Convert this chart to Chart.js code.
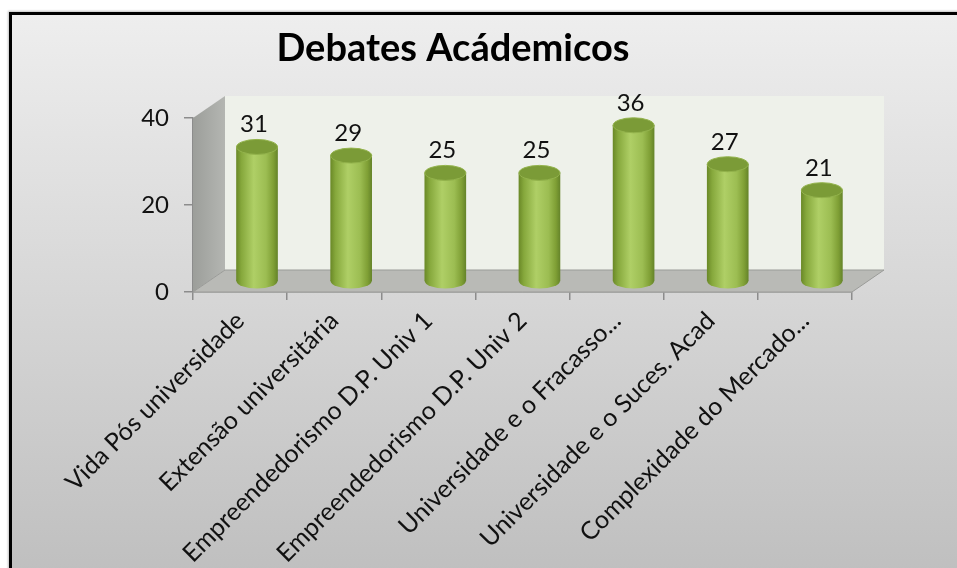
<!DOCTYPE html>
<html><head><meta charset="utf-8">
<script src="https://cdn.jsdelivr.net/npm/chart.js@4"></script>
<style>
html,body{margin:0;padding:0;background:#fff;width:957px;height:568px;overflow:hidden}
#frame{position:absolute;left:9px;top:12px;width:1000px;height:620px;border:3px solid #000;box-sizing:border-box;background:linear-gradient(#eeeeee,#bdbdbd 95%);box-shadow:-1px -1px 2px rgba(0,0,0,0.25)}
#wrap{position:absolute;left:0;top:0;width:957px;height:568px}
</style></head><body>
<div id="frame"></div>
<div id="wrap"><canvas id="c" width="957" height="568"></canvas></div>
<script>
const chartTitle = 'Debates Acádemicos';
const categories = [
  'Vida Pós universidade',
  'Extensão universitária',
  'Empreendedorismo D.P. Univ 1',
  'Empreendedorismo D.P. Univ 2',
  'Universidade e o Fracasso...',
  'Universidade e o Suces. Acad',
  'Complexidade do Mercado...'
];
const values = [31, 29, 25, 25, 36, 27, 21];
const yTicks = [0, 20, 40];

// 3D look settings (pixels)
const DX = 32, DY = 22, CAP = 7.5, BAR_W = 41;
const FONT = 'Lato, Carlito, "Liberation Sans", sans-serif';

function cylGrad(ctx, cx, w) {
  if (!isFinite(cx) || !isFinite(w) || w <= 0) return '#9bbb59';
  const g = ctx.createLinearGradient(cx - w / 2, 0, cx + w / 2, 0);
  g.addColorStop(0, '#6b8a28');
  g.addColorStop(0.12, '#86a83c');
  g.addColorStop(0.42, '#afcf66');
  g.addColorStop(0.72, '#9cbd52');
  g.addColorStop(0.9, '#7f9f35');
  g.addColorStop(1, '#66852a');
  return g;
}

const walls = {
  id: 'walls',
  beforeDatasetsDraw(chart) {
    const ctx = chart.ctx;
    const xs = chart.scales.x, ys = chart.scales.y;
    const xL = xs.left, xR = xs.right;
    const y0 = ys.getPixelForValue(yTicks[0]);
    const yT = ys.getPixelForValue(yTicks[yTicks.length - 1]);
    ctx.save();
    ctx.fillStyle = '#eef1ea';
    ctx.fillRect(xL + DX, yT - DY, xR - xL, y0 - yT);
    const sg = ctx.createLinearGradient(xL, 0, xL + DX, 0);
    sg.addColorStop(0, '#9c9e9a');
    sg.addColorStop(1, '#b4b6b2');
    ctx.fillStyle = sg;
    ctx.beginPath();
    ctx.moveTo(xL, yT); ctx.lineTo(xL + DX, yT - DY);
    ctx.lineTo(xL + DX, y0 - DY); ctx.lineTo(xL, y0); ctx.closePath();
    ctx.fill();
    ctx.fillStyle = '#b9bab6';
    ctx.beginPath();
    ctx.moveTo(xL, y0); ctx.lineTo(xL + DX, y0 - DY);
    ctx.lineTo(xR + DX, y0 - DY); ctx.lineTo(xR, y0); ctx.closePath();
    ctx.fill();
    ctx.strokeStyle = '#9a9b98';
    ctx.lineWidth = 1;
    ctx.stroke();
    const meta = chart.getDatasetMeta(0);
    meta.data.forEach(el => {
      ctx.fillStyle = cylGrad(ctx, el.x, el.width);
      ctx.beginPath();
      ctx.ellipse(el.x, el.base, el.width / 2, CAP, 0, 0, Math.PI * 2);
      ctx.fill();
    });
    ctx.restore();
  },
  afterDatasetsDraw(chart) {
    const ctx = chart.ctx;
    const meta = chart.getDatasetMeta(0);
    ctx.save();
    meta.data.forEach((el, i) => {
      ctx.beginPath();
      ctx.ellipse(el.x, el.y, el.width / 2, CAP, 0, 0, Math.PI * 2);
      ctx.fillStyle = '#7b9b37';
      ctx.fill();
      ctx.strokeStyle = '#93b34c';
      ctx.lineWidth = 1;
      ctx.stroke();
      ctx.fillStyle = '#111';
      ctx.font = '24px ' + FONT;
      ctx.textAlign = 'center';
      ctx.textBaseline = 'alphabetic';
      ctx.fillText(String(values[i]), el.x - 3, el.y - CAP - 7);
    });
    ctx.restore();
  }
};

new Chart(document.getElementById('c'), {
  type: 'bar',
  data: {
    labels: categories,
    datasets: [{
      data: values.map((v, i) => ({ x: i, y: v })),
      xAxisID: 'xb',
      yAxisID: 'yb',
      barThickness: BAR_W,
      borderWidth: 0,
      clip: false,
      backgroundColor: (c) => {
        const xs = c.chart.scales.xb;
        if (!xs || c.type !== 'data' || !c.parsed) return '#9bbb59';
        return cylGrad(c.chart.ctx, xs.getPixelForValue(c.parsed.x), BAR_W);
      }
    }]
  },
  options: {
    responsive: false,
    animation: false,
    events: [],
    layout: { padding: { left: 54, right: 105, top: 14, bottom: 0 } },
    plugins: {
      legend: { display: false },
      tooltip: { enabled: false },
      title: {
        display: true,
        text: chartTitle,
        color: '#000',
        font: { family: FONT, size: 38, weight: 'bold', lineHeight: 1.2 },
        padding: { top: 12, bottom: 46.4 }
      }
    },
    scales: {
      x: {
        type: 'category',
        offset: true,
        grid: { offset: true, drawOnChartArea: false, tickLength: 8, color: '#8c8c8c', lineWidth: 1.5 },
        border: { color: '#8c8c8c', width: 1.5 },
        ticks: { autoSkip: false, minRotation: 45, maxRotation: 45, padding: 6, color: '#111', font: { family: FONT, size: 25 } },
        afterFit: (s) => { s.height = 276; }
      },
      xb: {
        type: 'linear',
        display: false,
        offset: false,
        grid: { offset: false },
        min: -0.5 - 0.18,
        max: 6.5 - 0.18
      },
      y: {
        type: 'linear',
        position: 'left',
        min: 0, max: 40,
        afterBuildTicks: (s) => { s.ticks = yTicks.map(v => ({ value: v })); },
        grid: { drawOnChartArea: false, tickLength: 9, color: '#8c8c8c', lineWidth: 1.5 },
        border: { color: '#8c8c8c', width: 1.5 },
        ticks: { padding: 15, color: '#111', font: { family: FONT, size: 24 } },
        afterFit: (s) => { s.width = 139; }
      },
      yb: {
        type: 'linear',
        display: false,
        min: -2.54,
        max: 37.69
      }
    }
  },
  plugins: [walls]
});
</script>
</body></html>
